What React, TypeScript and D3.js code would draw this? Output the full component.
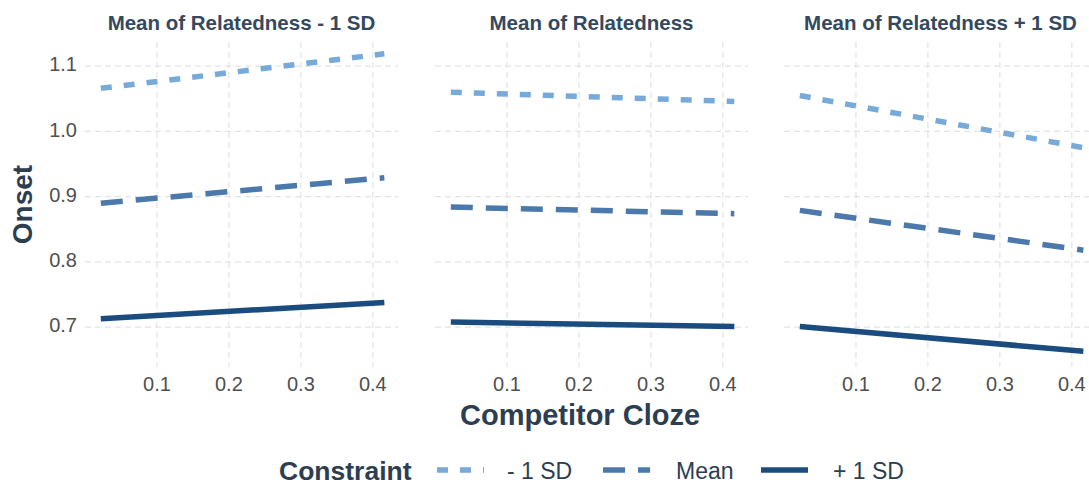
import React from 'react';
import * as d3 from 'd3';

// panel titles (facets by relatedness)
const panels = ['Mean of Relatedness - 1 SD', 'Mean of Relatedness', 'Mean of Relatedness + 1 SD'];
// constraint levels
const levels = ['- 1 SD', 'Mean', '+ 1 SD'];
// competitor cloze at line ends
const clozeX = [0.022, 0.416];
// onset values [panel] = [start, end]
const minusSD = [[1.066, 1.119], [1.06, 1.046], [1.055, 0.975]];
const meanSD = [[0.89, 0.929], [0.884, 0.874], [0.879, 0.818]];
const plusSD = [[0.713, 0.738], [0.708, 0.701], [0.701, 0.663]];
const xTicks = [0.1, 0.2, 0.3, 0.4];
const yTicks = [0.7, 0.8, 0.9, 1.0, 1.1];

const colors = ['#77aad9', '#4b79ab', '#1b4c7f'];
const dashes = ['11,12', '22,13', null];

const W = 1089;
const H = 486;
const panelLefts = [85, 435, 784];
const panelW = 313;
const top = 42;
const bottom = 367;
const font = "'Liberation Sans', Arial, sans-serif";

export default function App() {
  const series = [minusSD, meanSD, plusSD];
  const y = d3.scaleLinear().domain([0.639, 1.137]).range([bottom, top]);
  const line = (xs: d3.ScaleLinear<number, number>) =>
    d3.line<[number, number]>().x(d => xs(d[0])).y(d => y(d[1]));

  return (
    <svg width={W} height={H} style={{ position: 'absolute', left: 0, top: 0, background: '#fff' }}
      fontFamily={font}>
      {panels.map((title, p) => {
        const x = d3.scaleLinear().domain([0.0, 0.435]).range([panelLefts[p], panelLefts[p] + panelW]);
        const l = line(x);
        return (
          <g key={p}>
            {yTicks.map(t => (
              <line key={'h' + t} x1={panelLefts[p]} x2={panelLefts[p] + panelW} y1={y(t)} y2={y(t)}
                stroke="#e3e3e3" strokeWidth={1.2} strokeDasharray="6,4" />
            ))}
            {xTicks.map(t => (
              <line key={'v' + t} x1={x(t)} x2={x(t)} y1={top} y2={bottom}
                stroke="#e3e3e3" strokeWidth={1.2} strokeDasharray="6,4" />
            ))}
            {series.map((s, i) => (
              <path key={i} d={l(clozeX.map((cx, k) => [cx, s[p][k]] as [number, number])) || ''}
                fill="none" stroke={colors[i]} strokeWidth={5.5}
                strokeDasharray={dashes[i] || undefined} />
            ))}
            {xTicks.map(t => (
              <text key={'xl' + t} x={x(t)} y={386} textAnchor="middle" dominantBaseline="middle"
                fontSize={20} fill="#4f4f4f">{t.toFixed(1)}</text>
            ))}
            <text x={panelLefts[p] + panelW / 2} y={30} textAnchor="middle"
              fontSize={20.5} fontWeight="bold" fill="#34495e">{title}</text>
          </g>
        );
      })}
      {yTicks.map(t => (
        <text key={'yl' + t} x={77} y={y(t)} textAnchor="end" dominantBaseline="middle"
          fontSize={20} fill="#4f4f4f">{t.toFixed(1)}</text>
      ))}
      <text transform={`translate(32,${(top + bottom) / 2}) rotate(-90)`} textAnchor="middle"
        fontSize={28} fontWeight="bold" fill="#2c3e50">Onset</text>
      <text x={580} y={425} textAnchor="middle" fontSize={29} fontWeight="bold" fill="#2c3e50">Competitor Cloze</text>
      <text x={279} y={480} fontSize={26.5} fontWeight="bold" fill="#2c3e50">Constraint</text>
      {levels.map((lv, i) => {
        const kx = [437, 603, 761][i];
        const tx = [507, 676, 833][i];
        return (
          <g key={lv}>
            <line x1={kx} x2={kx + 47} y1={470} y2={470} stroke={colors[i]} strokeWidth={5.5}
              strokeDasharray={dashes[i] || undefined} />
            <text x={tx} y={479} fontSize={23} fill="#2c3e50">{lv}</text>
          </g>
        );
      })}
    </svg>
  );
}
